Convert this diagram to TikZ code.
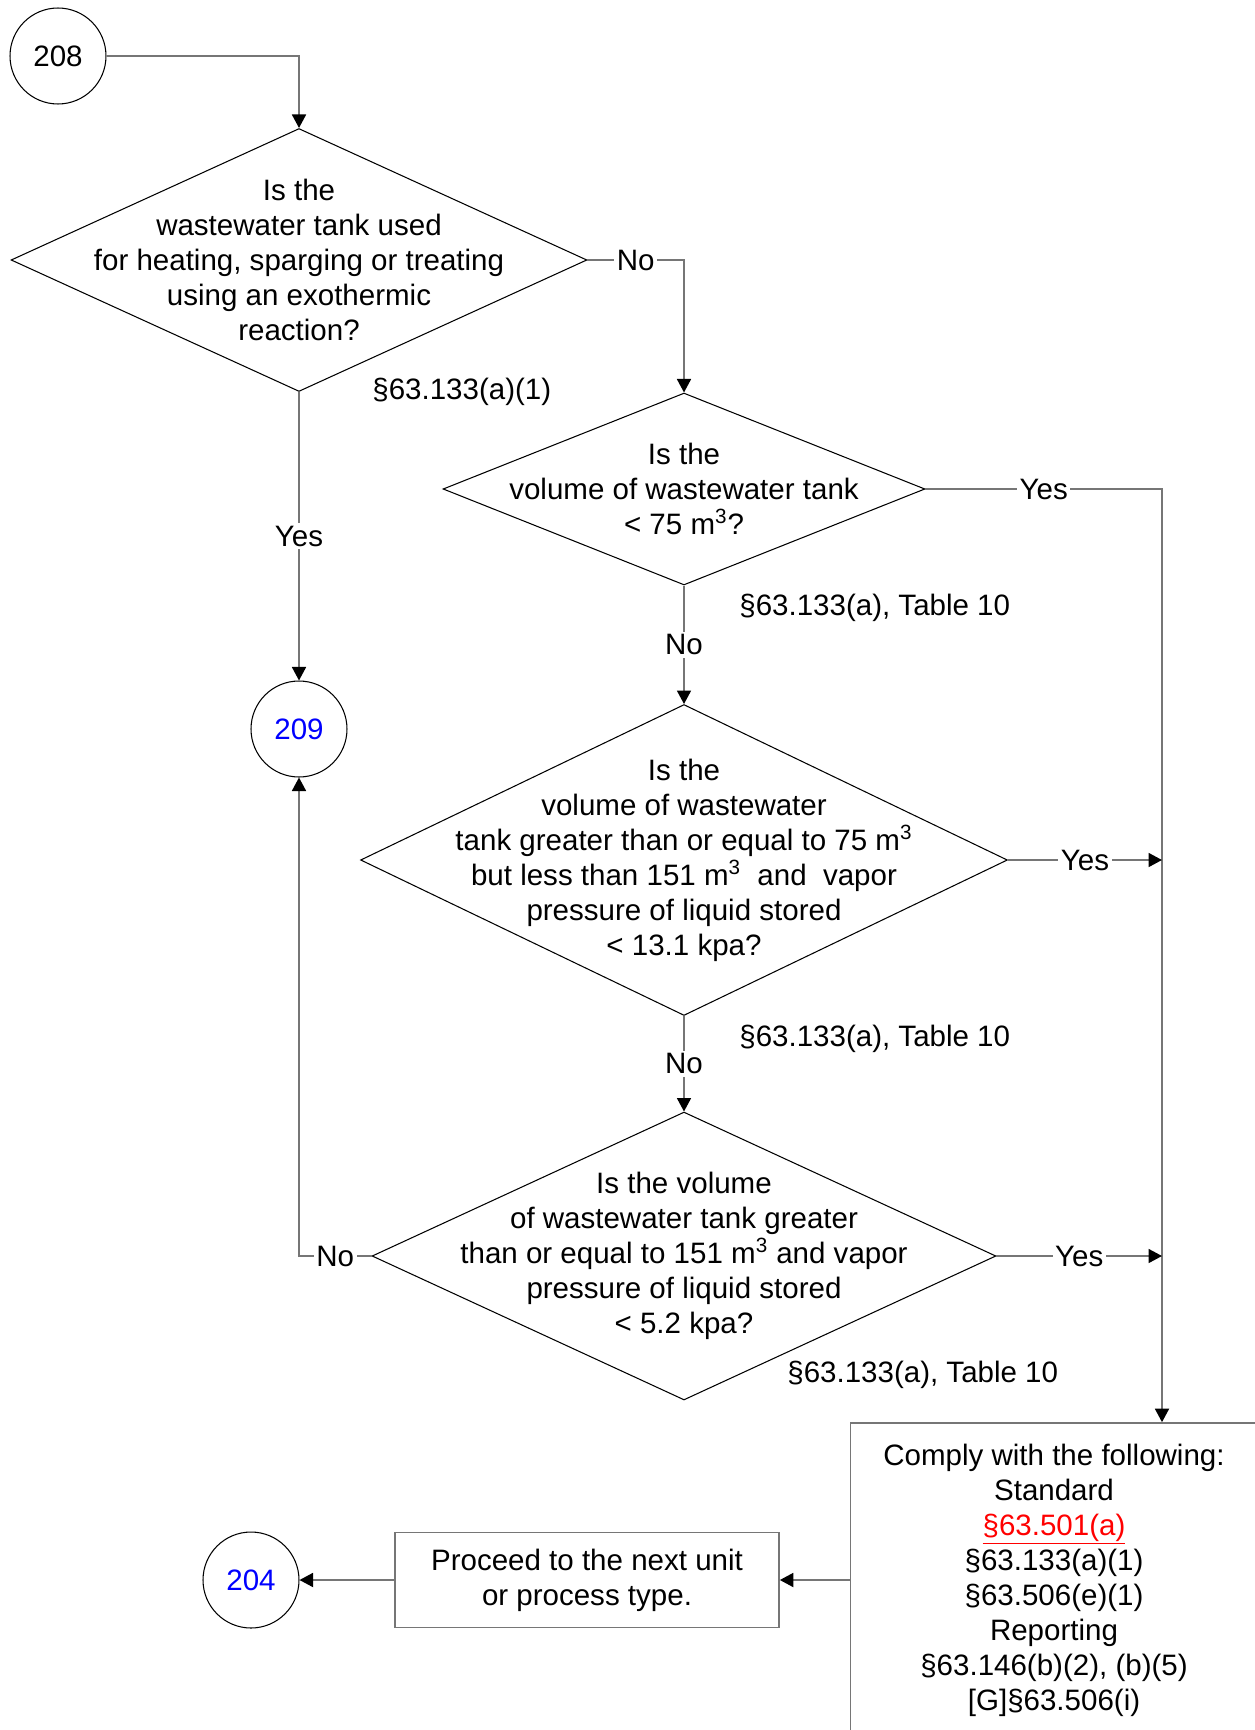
\documentclass[tikz,border=0pt]{standalone}
\usepackage{fontspec}
\setmainfont{Liberation Sans}
\usepackage{tikz}
\usetikzlibrary{arrows.meta,shapes.geometric}
\definecolor{LineGray}{RGB}{118,118,118}
\definecolor{LinkRed}{RGB}{255,0,0}
\definecolor{RefBlue}{RGB}{0,0,255}

\begin{document}
\begin{tikzpicture}[
  x=0.02cm, y=-0.02cm,
  font=\fontsize{16.8pt}{19.9pt}\selectfont,
  decision/.style={draw, diamond, inner sep=0pt, line width=0.6pt},
  qtext/.style={align=center, inner sep=0pt},
  connector/.style={draw, circle, minimum size=1.92cm, inner sep=0pt, line width=0.6pt},
  box/.style={draw=LineGray, line width=1pt, align=center, inner sep=0pt},
  lab/.style={fill=white, inner sep=1.5pt},
  ref/.style={anchor=west, inner sep=0pt},
  arrow/.style={draw=LineGray, line width=1pt, -{Triangle[length=0.27cm, width=0.28cm, color=black]}}
]
\useasboundingbox (0,0) rectangle (1254,1730);

\node[connector] (c208) at (58,56) {208};
\node[connector, text=RefBlue] (c209) at (299,729) {209};
\node[connector, text=RefBlue] (c204) at (251,1580) {204};

\node[decision, minimum width=11.52cm, minimum height=5.26cm] (q1) at (299,260) {};
\node[qtext] (q1txt) at (q1) {Is the\\ wastewater tank used\\ for heating, sparging or treating\\ using an exothermic\\ reaction?};

\node[decision, minimum width=9.64cm, minimum height=3.84cm] (q2) at (684,489) {};
\node[qtext] (q2txt) at (q2) {Is the\\ volume of wastewater tank\\ < 75 m\textsuperscript{3}?};

\node[decision, minimum width=12.94cm, minimum height=6.22cm] (q3) at (684,860) {};
\node[qtext] (q3txt) at (q3) {Is the\\ volume of wastewater\\ tank greater than or equal to 75 m\textsuperscript{3}\\ but less than 151 m\textsuperscript{3}\ \ and\ \ vapor\\ pressure of liquid stored\\ < 13.1 kpa?};

\node[decision, minimum width=12.48cm, minimum height=5.76cm] (q4) at (684,1256) {};
\node[qtext] (q4txt) at (q4) {Is the volume\\ of wastewater tank greater\\ than or equal to 151 m\textsuperscript{3} and vapor\\ pressure of liquid stored\\ < 5.2 kpa?};

\node[box, minimum width=8.14cm, minimum height=6.28cm] (comply) at (1054,1580) {Comply with the following:\\ Standard\\ \textcolor{LinkRed}{\underline{§63.501(a)}}\\ §63.133(a)(1)\\ §63.506(e)(1)\\ Reporting\\ §63.146(b)(2), (b)(5)\\ {[G]}§63.506(i)};
\node[box, minimum width=7.68cm, minimum height=1.9cm] (proceed) at (587,1580) {Proceed to the next unit\\ or process type.};

\node[ref] (ref1) at (372,392) {§63.133(a)(1)};
\node[ref] (ref2) at (739,608) {§63.133(a), Table 10};
\node[ref] (ref3) at (739,1039) {§63.133(a), Table 10};
\node[ref] (ref4) at (787,1375) {§63.133(a), Table 10};

\coordinate (bus) at (1162,0);

\draw[arrow] (c208) -| (q1);
\draw[arrow] (q1.east) -| node[lab, pos=0.25] {No} (q2.north);
\draw[arrow] (q1.south) -- node[lab] {Yes} (c209.north);
\draw[arrow] (q2.east) -| node[lab, pos=0.25] {Yes} (comply.north -| bus);
\draw[arrow] (q2.south) -- node[lab] {No} (q3.north);
\draw[arrow] (q3.east) -- node[lab] {Yes} (q3.east -| bus);
\draw[arrow] (q3.south) -- node[lab] {No} (q4.north);
\draw[arrow] (q4.east) -- node[lab] {Yes} (q4.east -| bus);
\draw[arrow] (q4.west) -| node[lab, pos=0.25] {No} (c209.south);
\draw[arrow] (comply.west) -- (proceed.east);
\draw[arrow] (proceed) -- (c204);
\end{tikzpicture}
\end{document}
